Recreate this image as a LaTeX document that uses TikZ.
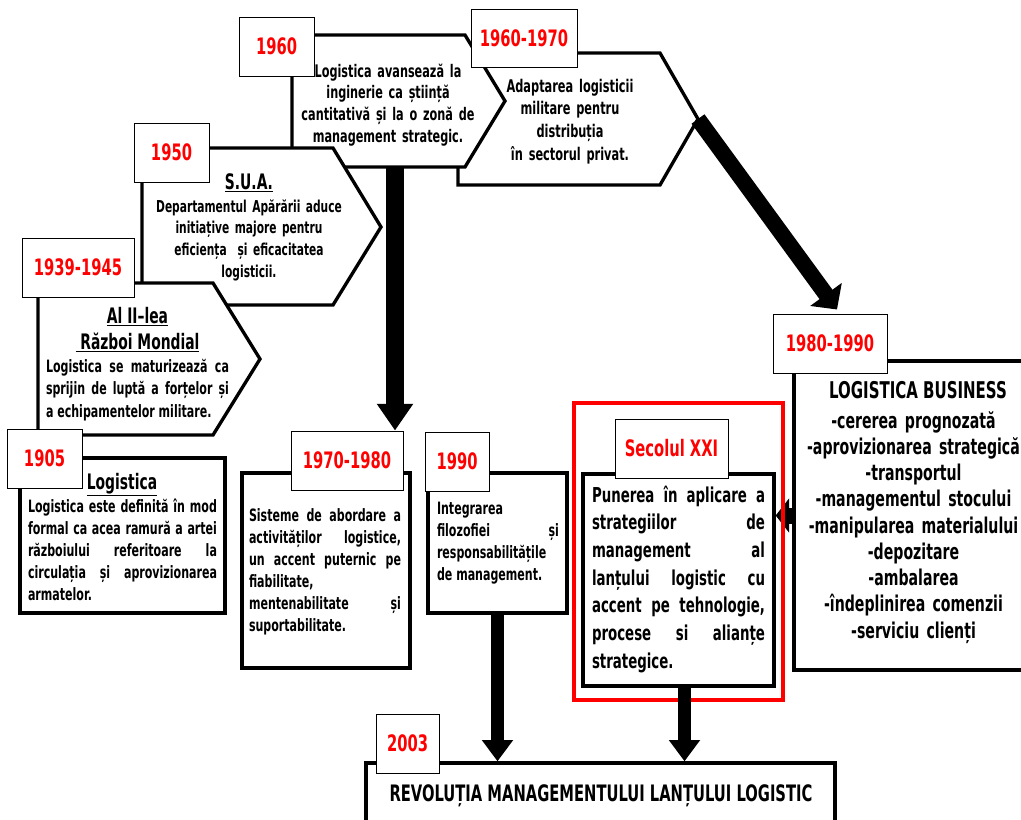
\documentclass[tikz,border=0pt]{standalone}
\usepackage{fontspec}
\newfontfamily\dvs{DejaVu Sans}[FakeStretch=0.65]
\usetikzlibrary{arrows.meta,calc}
\begin{document}
\begin{tikzpicture}[x=0.75pt,y=-0.75pt,
  pentagon/.style={draw=black,line width=2.5pt,fill=white,line join=miter},
  frame/.style={draw=black,line width=2.5pt,fill=white,inner sep=0pt},
  year/.style={draw=black,line width=0.75pt,fill=white,inner sep=0pt,text=red,
    font=\dvs\bfseries\fontsize{17}{20}\selectfont,minimum height=44.25pt},
  head/.style={anchor=base,inner sep=0pt,font=\dvs\bfseries\fontsize{16}{19}\selectfont},
  body/.style={anchor=base,inner sep=0pt,font=\dvs\bfseries\fontsize{12.75}{16.6}\selectfont},
  centred/.style={body,text width=#1,align=center},
  just/.style={body,text width=#1,align=justify},
  thick arrow/.style n args={3}{draw=black,line width=#1,-{Triangle[width=#2,length=#3]}},
]
\useasboundingbox (0,0) rectangle (1021,819);

% timeline pentagons, back to front
\draw[pentagon] (458,53) -- (660,53) -- (698,119) coordinate (tip6070) -- (660,185) -- (458,185) -- cycle;
\draw[pentagon] (292,35) -- (465,35) -- (505,101) -- (465,167) -- (292,167) -- cycle;
\coordinate (foot1960) at (395,167);
\draw[pentagon] (142,148) -- (333,148) -- (381,227) -- (333,305) -- (142,305) -- cycle;
\draw[pentagon] (38,283) -- (213,283) -- (260,359) -- (213,435) -- (38,435) -- cycle;

% texts inside the pentagons
\node[centred=150pt,font=\dvs\bfseries\fontsize{13}{16.3}\selectfont] (t1960) at (388,77)
  {Logistica avansează la\\inginerie ca știință\\cantitativă și la o zonă de\\management strategic.};
\node[centred=128pt,font=\dvs\bfseries\fontsize{13.1}{17}\selectfont] (t6070) at (570,92)
  {Adaptarea logisticii\\militare pentru\\distribuția\\în sectorul privat.};
\node[head] (h1950) at (249,189) {\underline{S.U.A.}};
\node[centred=172pt,font=\dvs\bfseries\fontsize{12.3}{16.3}\selectfont] (t1950) at (249,212)
  {Departamentul Apărării aduce\\initiațive majore pentru\\eficiența\ \ și eficacitatea\\logisticii.};
\node[head] (h3945a) at (137.5,323) {\underline{Al II–lea}};
\node[head] (h3945b) at (137.5,349) {\underline{\ Război Mondial}};
\node[just=137.25pt,font=\dvs\bfseries\fontsize{12.75}{16.9}\selectfont] (t3945) at (137.5,372)
  {Logistica se maturizează ca\linebreak sprijin de luptă a forțelor și\linebreak a echipamentelor militare.};

% rectangular boxes
\node[frame,minimum width=153.75pt,minimum height=116.25pt] (b1905) at (122.5,535.5) {};
\node[head] (h1905) at (122,489) {\underline{Logistica}};
\node[just=141.75pt] (t1905) at (122.5,512)
  {Logistica este definită în mod\linebreak formal ca acea ramură a artei\linebreak războiului referitoare la\linebreak circulația și aprovizionarea\linebreak armatelor.};

\node[frame,minimum width=126pt,minimum height=146.25pt] (b7080) at (326,570.5) {};
\node[just=114pt] (t7080) at (325,521)
  {Sisteme de abordare a\linebreak activităților logistice,\linebreak un accent puternic pe\linebreak fiabilitate,\newline mentenabilitate și\linebreak suportabilitate.};

\node[frame,minimum width=104.25pt,minimum height=105pt] (b1990) at (497.5,543) {};
\node[just=91.5pt] (t1990) at (498,514)
  {Integrarea\newline filozofiei și\linebreak responsabilitățile\linebreak de management.};

\node[frame,minimum width=143.25pt,minimum height=159pt] (bsec) at (678.5,580) {};
\node[just=129.75pt,font=\dvs\bfseries\fontsize{15.4}{20.8}\selectfont] (tsec) at (678.5,502)
  {Punerea în aplicare a\linebreak strategiilor de\linebreak management al\linebreak lanțului logistic cu\linebreak accent pe tehnologie,\linebreak procese si alianțe\linebreak strategice.};

\node[frame,minimum width=188.25pt,minimum height=231.75pt] (b8090) at (919.5,515.5) {};
\node[head,font=\dvs\bfseries\fontsize{17.3}{20}\selectfont] (h8090) at (918,398) {LOGISTICA BUSINESS};
\node[centred=195pt,font=\dvs\bfseries\fontsize{16.3}{19.7}\selectfont] (t8090) at (913.5,428)
  {-cererea prognozată\\-aprovizionarea strategică\\-transportul\\-managementul stocului\\-manipularea materialului\\-depozitare\\-ambalarea\\-îndeplinirea comenzii\\-serviciu clienți};

\node[frame,minimum width=351.75pt,minimum height=60pt] (b2003) at (600.5,803) {};
\node[head,font=\dvs\bfseries\fontsize{17}{20}\selectfont] (t2003) at (601,801)
  {REVOLUȚIA MANAGEMENTULUI LANȚULUI LOGISTIC};

% year labels
\node[year,minimum width=56.25pt] (l1960) at (276.5,46.5) {1960};
\node[year,minimum width=79.5pt,minimum height=43.5pt] (l6070) at (524,38) {1960-1970};
\node[year,minimum width=56.25pt] (l1950) at (171.5,152.5) {1950};
\node[year,minimum width=84pt] (l3945) at (78,267.5) {1939-1945};
\node[year,minimum width=56.25pt] (l1905) at (44.5,458.5) {1905};
\node[year,minimum width=84pt] (l7080) at (347,460.5) {1970-1980};
\node[year,minimum width=48pt] (l1990) at (457,461.5) {1990};
\node[year,minimum width=84.75pt] (lsec) at (671.5,448.5) {Secolul XXI};
\node[year,minimum width=85.5pt] (l8090) at (830,343.5) {1980-1990};
\node[year,minimum width=47.25pt] (l2003) at (407.5,743.5) {2003};

% connectors
\draw[thick arrow={13.5pt}{26pt}{20pt}] (foot1960) -- (foot1960 |- l7080.north);
\draw[thick arrow={12pt}{28.5pt}{14pt}] (tip6070) -- ($(l8090.north)+(7,-4)$);
\draw[thick arrow={12pt}{25pt}{10pt}] (b8090.west) -- (b8090.west -| bsec.east);
\draw[draw=red,line width=2.5pt] (574,403) rectangle (783,700);
\draw[thick arrow={10pt}{22.5pt}{16pt}] (b1990.south) -- (b1990.south |- b2003.north);
\coordinate (foot21) at ($(bsec.south)+(6,0)$);
\draw[thick arrow={10pt}{22.5pt}{16pt}] (foot21) -- (foot21 |- b2003.north);
\end{tikzpicture}
\end{document}
